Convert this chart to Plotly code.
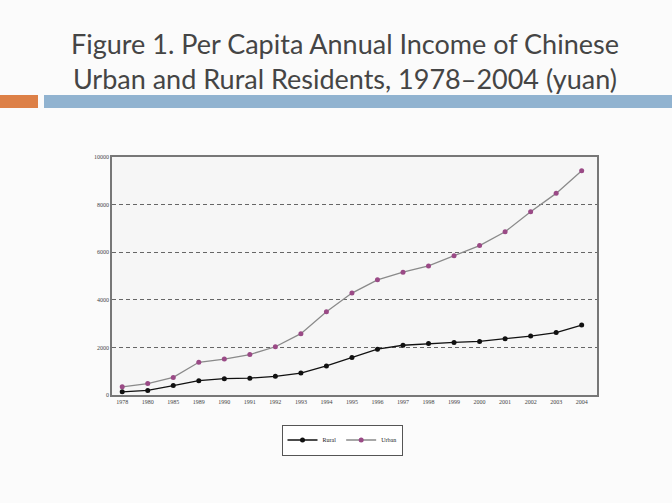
import plotly.graph_objects as go

years = ["1978", "1980", "1985", "1989", "1990", "1991", "1992", "1993", "1994", "1995",
         "1996", "1997", "1998", "1999", "2000", "2001", "2002", "2003", "2004"]
rural = [134, 191, 398, 602, 686, 709, 784, 922, 1221, 1578,
         1926, 2090, 2162, 2210, 2253, 2366, 2476, 2622, 2936]
urban = [343, 478, 739, 1374, 1510, 1701, 2027, 2577, 3496, 4283,
         4839, 5160, 5425, 5854, 6280, 6860, 7703, 8472, 9422]
y_ticks = [0, 2000, 4000, 6000, 8000, 10000]
y_tick_text = ["0", "2000", "4000", "6000", "8000", "10000"]

W, H = 672, 503
L, R, T, B = 112, 597, 157, 395

def px(x):
    return (x - L) / (R - L)

def py(y):
    return (B - y) / (B - T)

fig = go.Figure()
fig.add_trace(go.Scatter(x=years, y=rural, name="Rural", mode="lines+markers",
                         line=dict(color="#111111", width=1.3),
                         marker=dict(symbol="circle", size=5, color="#111111")))
fig.add_trace(go.Scatter(x=years, y=urban, name="Urban", mode="lines+markers",
                         line=dict(color="#8a8a8a", width=1.3),
                         marker=dict(symbol="circle", size=5, color="#9a4a86")))

fig.update_layout(
    width=W, height=H,
    margin=dict(l=L, r=W - R, t=T, b=H - B, autoexpand=False),
    paper_bgcolor="#fbfbfb",
    plot_bgcolor="#f6f6f6",
    title=dict(text="Figure 1. Per Capita Annual Income of Chinese<br>Urban and Rural Residents, 1978\u20132004 (yuan)",
               x=345 / W, xanchor="center", y=1 - 54 / H, yanchor="middle",
               font=dict(family="Lato, Open Sans, sans-serif", size=27, color="#454545")),
    xaxis=dict(type="category", range=[-0.4, 18.6], showgrid=False,
               showline=True, linecolor="#777777", linewidth=1.5, mirror=True,
               ticks="", tickfont=dict(family="Liberation Serif", size=6, color="#444444"),
               tickangle=0),
    yaxis=dict(range=[0, 10000], tickvals=y_ticks, ticktext=y_tick_text,
               showgrid=True, gridcolor="#666666", gridwidth=1, griddash="4px,3px",
               zeroline=False, showline=True, linecolor="#777777", linewidth=1.5, mirror=True,
               ticks="", tickfont=dict(family="Liberation Serif", size=6, color="#444444")),
    legend=dict(orientation="h", x=px(342), xanchor="center", y=py(440), yanchor="middle",
                bgcolor="#ffffff", bordercolor="#555555", borderwidth=1,
                font=dict(family="Liberation Serif", size=6, color="#222222"),
                itemwidth=30, tracegroupgap=0),
    showlegend=True,
    shapes=[
        dict(type="rect", xref="paper", yref="paper", x0=px(0), x1=px(38), y0=py(95), y1=py(108),
             fillcolor="#dd8047", line=dict(width=0), layer="above"),
        dict(type="rect", xref="paper", yref="paper", x0=px(44), x1=px(672), y0=py(95), y1=py(108),
             fillcolor="#91b3d0", line=dict(width=0), layer="above"),
    ],
)

fig.write_html("out.html", config={"displayModeBar": False},
               post_script="document.body.style.margin='0';document.body.style.background='#fbfbfb';")
